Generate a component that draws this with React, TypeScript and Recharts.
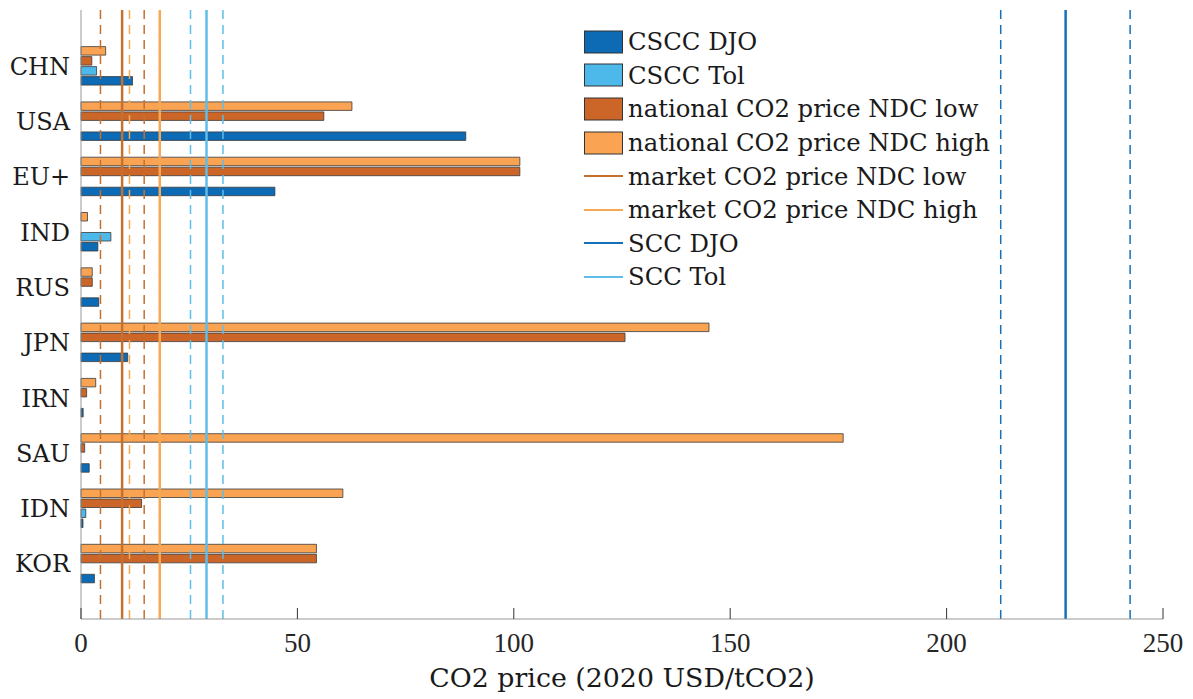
import { Bar, BarChart, Label, Legend, ReferenceLine, XAxis, YAxis } from "recharts";

const countries = ["CHN", "USA", "EU+", "IND", "RUS", "JPN", "IRN", "SAU", "IDN", "KOR"];
const ndcHigh = [5.7, 62.6, 101.4, 1.5, 2.6, 145.1, 3.4, 176.1, 60.5, 54.4];
const ndcLow = [2.5, 56.1, 101.4, 0, 2.6, 125.7, 1.3, 0.85, 14.0, 54.4];
const csccTol = [3.6, 0, 0, 6.9, 0, 0, 0, 0, 1.1, 0];
const csccDjo = [11.9, 88.9, 44.8, 3.9, 4.1, 10.8, 0.5, 1.9, 0.46, 3.1];

// [lower, central, upper]
const marketLow = [4.5, 9.5, 14.6];
const marketHigh = [11.2, 18.2];
const sccTol = [25.3, 29.0, 32.8];
const sccDjo = [212.5, 227.5, 242.4];

const xTicks = [0, 50, 100, 150, 200, 250];

const C = {
  djo: "#0d6ab5",
  tol: "#4db8ea",
  low: "#cc6628",
  high: "#faa453",
  mLow: "#c4702f",
  mHigh: "#f5a955",
  sDjo: "#1670b8",
  sTol: "#5fbde8",
};

const data = countries.map((c, i) => ({
  country: c,
  high: ndcHigh[i],
  low: ndcLow[i],
  tol: csccTol[i],
  djo: csccDjo[i],
}));

const textFont = "'DejaVu Serif', serif";
const numFont = "'Liberation Serif', serif";

const legendItems = [
  { label: "CSCC DJO", color: C.djo, kind: "patch" },
  { label: "CSCC Tol", color: C.tol, kind: "patch" },
  { label: "national CO2 price NDC low", color: C.low, kind: "patch" },
  { label: "national CO2 price NDC high", color: C.high, kind: "patch" },
  { label: "market CO2 price NDC low", color: C.mLow, kind: "line" },
  { label: "market CO2 price NDC high", color: C.mHigh, kind: "line" },
  { label: "SCC DJO", color: C.sDjo, kind: "line" },
  { label: "SCC Tol", color: C.sTol, kind: "line" },
];

function renderLegend() {
  return (
    <div style={{ fontFamily: textFont, fontSize: 24.3, color: "#1a1a1a" }}>
      {legendItems.map((it) => (
        <div key={it.label} style={{ display: "flex", alignItems: "center", height: 33.6 }}>
          <svg width={40} height={24} style={{ marginRight: 4 }}>
            {it.kind === "patch" ? (
              <rect x={0.5} y={1} width={38} height={22} fill={it.color} stroke="#333" strokeWidth={1} />
            ) : (
              <line x1={0} x2={39} y1={12} y2={12} stroke={it.color} strokeWidth={2} />
            )}
          </svg>
          <span style={{ whiteSpace: "nowrap" }}>{it.label}</span>
        </div>
      ))}
    </div>
  );
}

function XTick(props: any) {
  const { x, y, payload } = props;
  return (
    <g>
      <line x1={x} x2={x} y1={y} y2={y - 11} stroke="#333" strokeWidth={1} />
      <text x={x} y={y + 33} textAnchor="middle" fontFamily={numFont} fontSize={27} fill="#262626">
        {payload.value}
      </text>
    </g>
  );
}

function bandLines(vals: number[], color: string, centralIdx: number) {
  return vals.map((v, i) => {
    const isCentral = i === centralIdx;
    return (
      <ReferenceLine
        key={`${color}-${v}`}
        x={v}
        stroke={color}
        strokeWidth={isCentral ? 2.5 : 1.5}
        strokeDasharray={isCentral ? undefined : "9 6"}
      />
    );
  });
}

export default function App() {
  return (
    <BarChart
      width={1185}
      height={690}
      data={data}
      layout="vertical"
      margin={{ top: 2, right: 30, left: 0, bottom: 0 }}
      barSize={8.5}
      barGap={1.5}
    >
      <XAxis
        type="number"
        domain={[0, 250]}
        ticks={xTicks}
        height={79}
        stroke="#999"
        tickSize={0}
        tickMargin={0}
        tick={<XTick />}
        interval={0}
      >
        <Label
          value="CO2 price (2020 USD/tCO2)"
          position="insideBottom"
          offset={11}
          style={{ fontFamily: textFont, fontSize: 26.8, fill: "#1a1a1a" }}
        />
      </XAxis>
      <YAxis
        type="category"
        dataKey="country"
        width={73}
        stroke="#999"
        tickLine={false}
        tickSize={0}
        tickMargin={11}
        padding={{ top: 28.6, bottom: 27.4 }}
        tick={{ fontFamily: textFont, fontSize: 24, fill: "#1a1a1a" }}
      />
      <Bar dataKey="high" fill={C.high} stroke="#3a3a3a" strokeWidth={0.8} isAnimationActive={false} />
      <Bar dataKey="low" fill={C.low} stroke="#3a3a3a" strokeWidth={0.8} isAnimationActive={false} />
      <Bar dataKey="tol" fill={C.tol} stroke="#3a3a3a" strokeWidth={0.8} isAnimationActive={false} />
      <Bar dataKey="djo" fill={C.djo} stroke="#3a3a3a" strokeWidth={0.8} isAnimationActive={false} />
      {bandLines(marketLow, C.mLow, 1)}
      {bandLines(marketHigh, C.mHigh, 1)}
      {bandLines(sccTol, C.sTol, 1)}
      {bandLines(sccDjo, C.sDjo, 1)}
      <Legend
        layout="vertical"
        align="center"
        verticalAlign="middle"
        content={renderLegend}
        wrapperStyle={{ top: 17, left: 576, width: 440, height: 275 }}
      />
    </BarChart>
  );
}
